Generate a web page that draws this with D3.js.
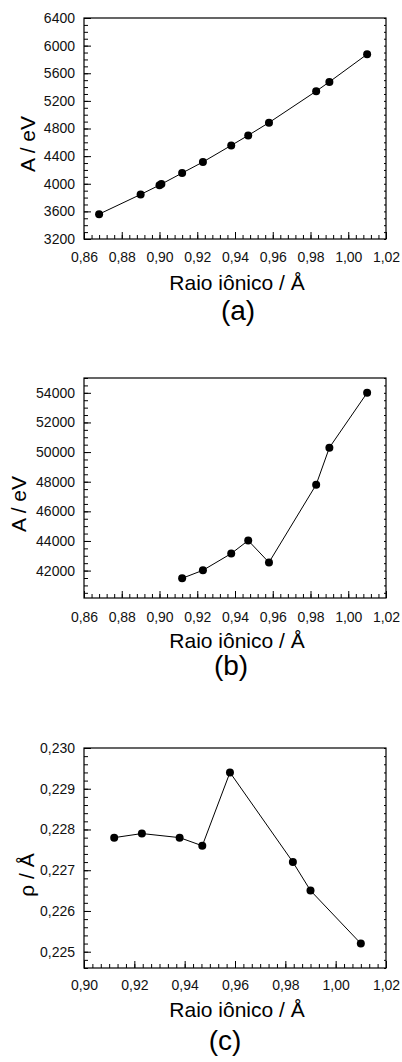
<!DOCTYPE html>
<html>
<head>
<meta charset="utf-8">
<script src="https://cdnjs.cloudflare.com/ajax/libs/d3/7.8.5/d3.min.js"></script>
<style>
  html, body { margin: 0; padding: 0; background: #fff; }
  svg { display: block; font-family: "Liberation Sans", Arial, sans-serif; }
  .frame { fill: none; stroke: #000; stroke-width: 1.2; }
  .tick line { stroke: #000; stroke-width: 1; }
  .tick text { fill: #111; font-size: 14px; }
  .series { fill: none; stroke: #000; stroke-width: 1; }
  .dot { fill: #000; }
</style>
</head>
<body>
<svg id="chart" width="402" height="1062"></svg>
<script>
(function() {
  'use strict';

  // (a) A (eV) vs ionic radius
  var radiusA = [0.868, 0.890, 0.900, 0.901, 0.912, 0.923, 0.938, 0.947, 0.958, 0.983, 0.990, 1.010];
  var energyA = [3560, 3845, 3980, 3995, 4155, 4315, 4555, 4700, 4885, 5340, 5475, 5875];

  // (b) A (eV) vs ionic radius
  var radiusB = [0.912, 0.923, 0.938, 0.947, 0.958, 0.983, 0.990, 1.010];
  var energyB = [41480, 42020, 43150, 44030, 42550, 47800, 50300, 54000];

  // (c) rho (Å) vs ionic radius
  var radiusC = [0.912, 0.923, 0.938, 0.947, 0.958, 0.983, 0.990, 1.010];
  var rhoC = [0.2278, 0.2279, 0.2278, 0.2276, 0.2294, 0.2272, 0.2265, 0.2252];

  var xTicksAB = [0.86, 0.88, 0.90, 0.92, 0.94, 0.96, 0.98, 1.00, 1.02];
  var xTicksC = [0.90, 0.92, 0.94, 0.96, 0.98, 1.00, 1.02];
  var yTicksA = [3200, 3600, 4000, 4400, 4800, 5200, 5600, 6000, 6400];
  var yTicksB = [42000, 44000, 46000, 48000, 50000, 52000, 54000];
  var yTicksC = [0.225, 0.226, 0.227, 0.228, 0.229, 0.230];

  var xTitle = "Raio iônico / Å";

  var svg = d3.select("#chart");
  var left = 84, right = 386;

  var comma = function(p) {
    var f = d3.format("." + p + "f");
    return function(v) { return f(v).replace(".", ","); };
  };

  // subdivide each major interval into n parts, extending past ends if domain allows
  function minorTicks(majors, n, domain) {
    var step = (majors[1] - majors[0]) / n, out = [];
    var lo = Math.min(domain[0], domain[1]), hi = Math.max(domain[0], domain[1]);
    var start = majors[0];
    while (start - step >= lo - 1e-12) start -= step;
    for (var v = start; v <= hi + 1e-12; v += step) out.push(+v.toFixed(8));
    return out;
  }

  function drawPanel(cfg) {
    var width = right - left, height = cfg.bottom - cfg.top;
    var g = svg.append("g").attr("transform", "translate(" + left + "," + cfg.top + ")");

    var x = d3.scaleLinear().domain(cfg.xDomain).range([0, width]);
    var y = d3.scaleLinear().domain(cfg.yDomain).range([height, 0]);

    var xMinor = minorTicks(cfg.xTicks, cfg.xSub, cfg.xDomain);
    var yMinor = minorTicks(cfg.yTicks, cfg.ySub, cfg.yDomain);

    // minor ticks (inward)
    g.append("g")
      .attr("transform", "translate(0," + height + ")")
      .call(d3.axisTop(x).tickValues(xMinor).tickSize(4).tickFormat(""))
      .call(function(s) { s.select(".domain").remove(); });
    g.append("g")
      .call(d3.axisRight(y).tickValues(yMinor).tickSize(4).tickFormat(""))
      .call(function(s) { s.select(".domain").remove(); });
    g.append("g")
      .attr("transform", "translate(" + width + ",0)")
      .call(d3.axisLeft(y).tickValues(yMinor).tickSize(2).tickFormat(""))
      .call(function(s) { s.select(".domain").remove(); });

    // major ticks (inward) + labels
    var xAxis = g.append("g")
      .attr("transform", "translate(0," + height + ")")
      .call(d3.axisBottom(x).tickValues(cfg.xTicks).tickSizeInner(-7).tickSizeOuter(0)
        .tickPadding(0).tickFormat(comma(2)));
    xAxis.select(".domain").remove();
    xAxis.selectAll(".tick text").attr("y", cfg.xLabelDy).attr("dy", 0);

    var yAxis = g.append("g")
      .call(d3.axisLeft(y).tickValues(cfg.yTicks).tickSizeInner(-7).tickSizeOuter(0)
        .tickPadding(0).tickFormat(cfg.yFormat));
    yAxis.select(".domain").remove();
    yAxis.selectAll(".tick text").attr("x", -9);

    g.append("rect")
      .attr("class", "frame")
      .attr("width", width)
      .attr("height", height);

    var pts = cfg.xs.map(function(d, i) { return [d, cfg.ys[i]]; });

    var line = d3.line()
      .x(function(d) { return x(d[0]); })
      .y(function(d) { return y(d[1]); });

    g.append("path")
      .datum(pts)
      .attr("class", "series")
      .attr("d", line);

    g.selectAll(".dot")
      .data(pts)
      .enter().append("circle")
      .attr("class", "dot")
      .attr("cx", function(d) { return x(d[0]); })
      .attr("cy", function(d) { return y(d[1]); })
      .attr("r", 4);

    svg.append("text")
      .attr("x", 237)
      .attr("y", cfg.bottom + cfg.titleDy)
      .attr("text-anchor", "middle")
      .style("font-size", "21px")
      .attr("fill", "#000")
      .text(xTitle);

    svg.append("text")
      .attr("transform", "translate(" + cfg.yTitleX + "," + cfg.yTitleY + ") rotate(-90)")
      .attr("text-anchor", "middle")
      .attr("dominant-baseline", "central")
      .style("font-size", "21px")
      .attr("fill", "#000")
      .text(cfg.yTitle);

    svg.append("text")
      .attr("x", cfg.tagX)
      .attr("y", cfg.bottom + cfg.tagDy)
      .attr("text-anchor", "middle")
      .style("font-size", "28px")
      .attr("fill", "#000")
      .text(cfg.tag);
  }

  drawPanel({
    top: 18, bottom: 239,
    xs: radiusA, ys: energyA,
    xDomain: [0.86, 1.02], xTicks: xTicksAB, xSub: 5,
    yDomain: [3200, 6400], yTicks: yTicksA, ySub: 4, yFormat: d3.format("d"),
    xLabelDy: 23, titleDy: 51, tagDy: 81, tagX: 238,
    yTitle: "A / eV", yTitleX: 27, yTitleY: 144, tag: "(a)"
  });

  drawPanel({
    top: 378, bottom: 598,
    xs: radiusB, ys: energyB,
    xDomain: [0.86, 1.02], xTicks: xTicksAB, xSub: 5,
    yDomain: [40150, 55000], yTicks: yTicksB, ySub: 4, yFormat: d3.format("d"),
    xLabelDy: 23.5, titleDy: 50, tagDy: 77, tagX: 231,
    yTitle: "A / eV", yTitleX: 18, yTitleY: 504, tag: "(b)"
  });

  drawPanel({
    top: 748, bottom: 968,
    xs: radiusC, ys: rhoC,
    xDomain: [0.90, 1.02], xTicks: xTicksC, xSub: 6,
    yDomain: [0.2246, 0.230], yTicks: yTicksC, ySub: 5, yFormat: comma(3),
    xLabelDy: 22, titleDy: 48.5, tagDy: 82, tagX: 225,
    yTitle: "ρ / Å", yTitleX: 26, yTitleY: 875, tag: "(c)"
  });

}());
</script>
</body>
</html>
